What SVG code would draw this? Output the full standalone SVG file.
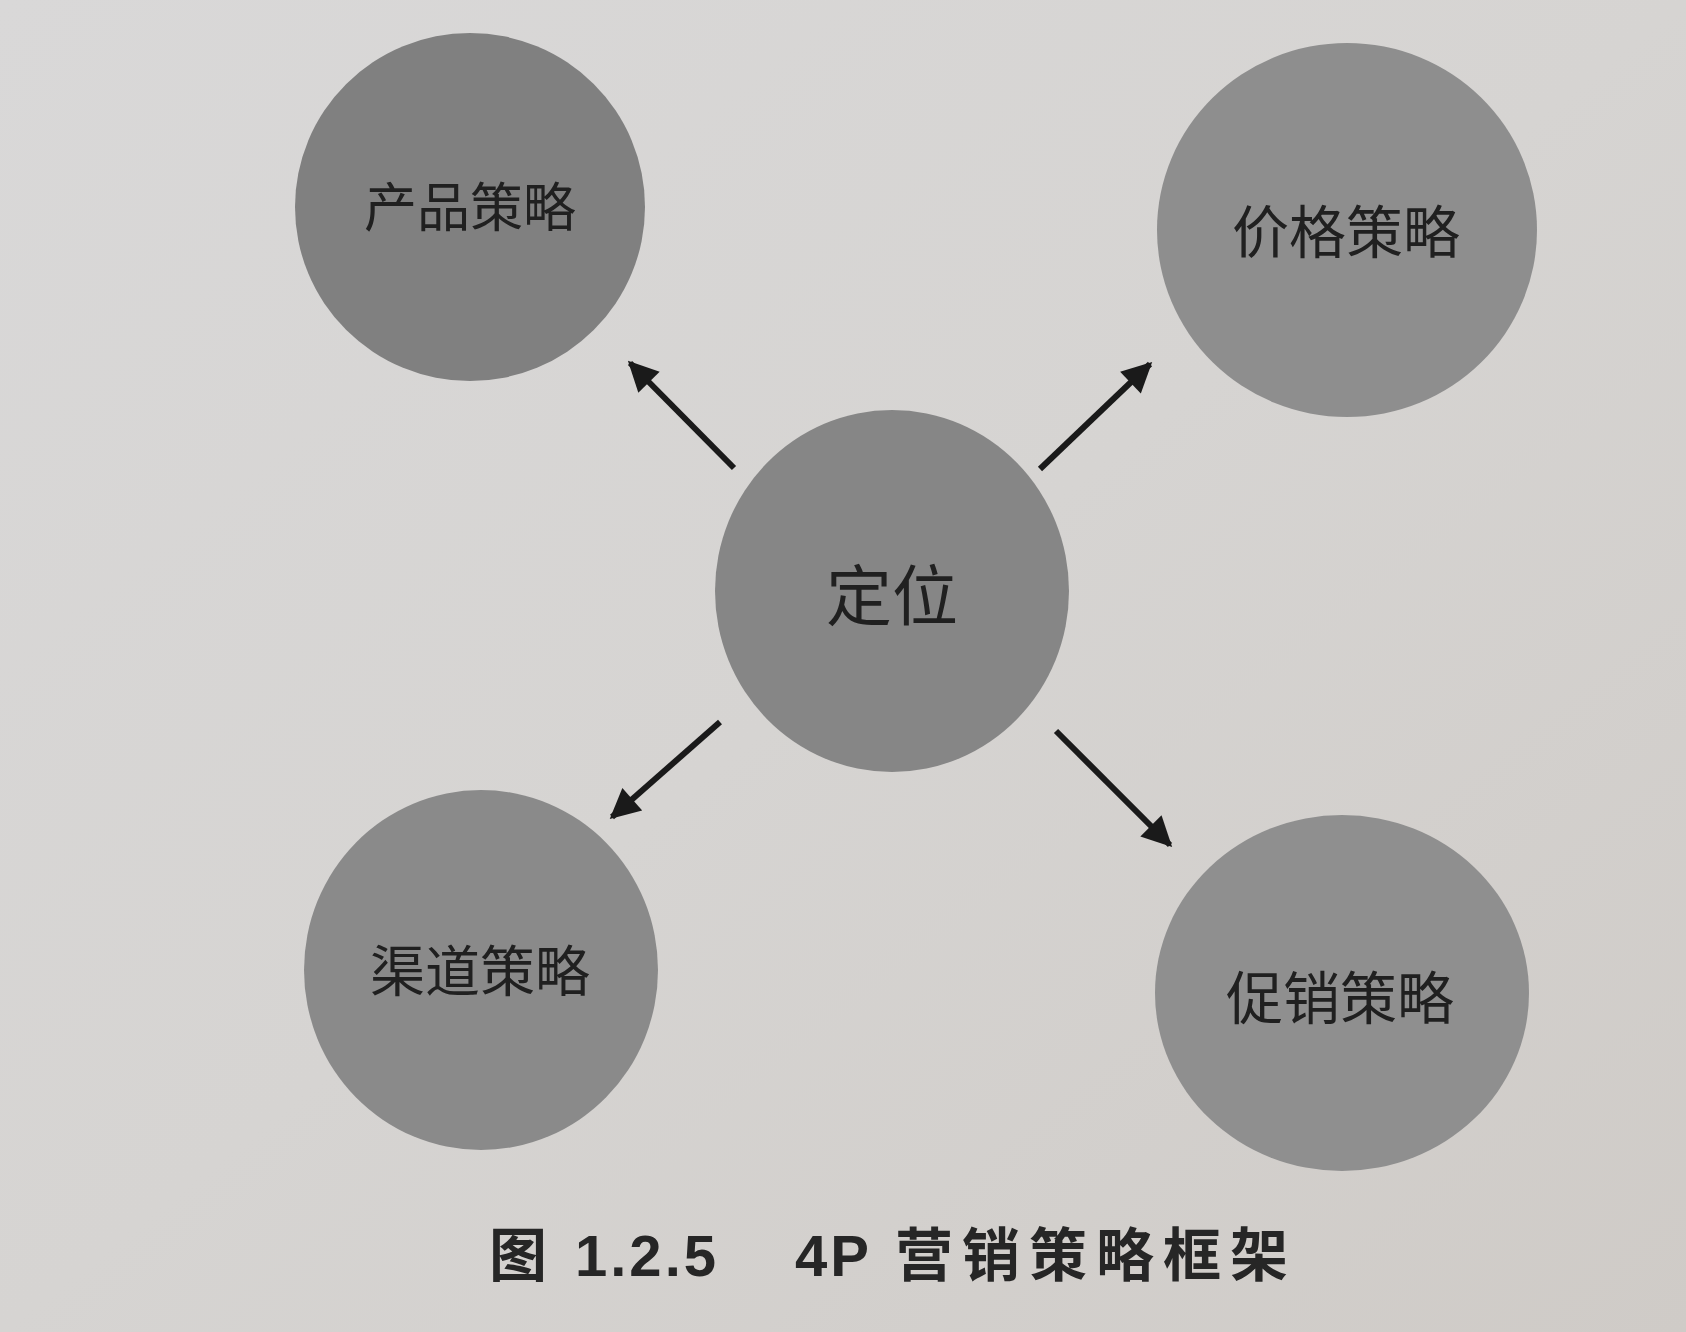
<svg xmlns="http://www.w3.org/2000/svg" width="1686" height="1332" viewBox="0 0 1686 1332">
<defs>
<linearGradient id="bg" x1="0" y1="0" x2="1" y2="1">
<stop offset="0" stop-color="#d9d8d8"/>
<stop offset="0.5" stop-color="#d6d4d2"/>
<stop offset="1" stop-color="#cfcbc7"/>
</linearGradient>
<marker id="ah" viewBox="0 0 10 10" refX="9" refY="5" markerWidth="5.5" markerHeight="5" markerUnits="strokeWidth" orient="auto">
<path d="M0,0 L10,5 L0,10 z" fill="#1a1a1a"/>
</marker>
<style>
.node{stroke:none}
.lbl{font-family:"Noto Sans CJK SC","Noto Sans",sans-serif;fill:#202020;text-anchor:middle;dominant-baseline:central}
.conn{stroke:#1a1a1a;stroke-width:6;fill:none;marker-end:url(#ah)}
.cap{font-family:"Liberation Sans","Noto Sans CJK SC",sans-serif;font-weight:bold;fill:#262626}
</style>
</defs>
<rect width="1686" height="1332" fill="url(#bg)"/>
<g id="connectors">
<line class="conn" x1="734" y1="468" x2="630" y2="363"/>
<line class="conn" x1="1040" y1="469" x2="1150" y2="364"/>
<line class="conn" x1="720" y1="722" x2="612" y2="817"/>
<line class="conn" x1="1056" y1="731" x2="1170" y2="845"/>
</g>
<g id="node-product">
<ellipse class="node" cx="470" cy="207" rx="175" ry="174" fill="#808080"/>
<text class="lbl" x="470" y="204" font-size="53">产品策略</text>
</g>
<g id="node-price">
<ellipse class="node" cx="1347" cy="230" rx="190" ry="187" fill="#8e8e8e"/>
<text class="lbl" x="1346" y="228" font-size="57">价格策略</text>
</g>
<g id="node-position">
<ellipse class="node" cx="892" cy="591" rx="177" ry="181" fill="#868686"/>
<text class="lbl" x="892" y="591" font-size="66">定位</text>
</g>
<g id="node-channel">
<ellipse class="node" cx="481" cy="970" rx="177" ry="180" fill="#8a8a8a"/>
<text class="lbl" x="480" y="967" font-size="55">渠道策略</text>
</g>
<g id="node-promotion">
<ellipse class="node" cx="1342" cy="993" rx="187" ry="178" fill="#8f8f8f"/>
<text class="lbl" x="1340" y="994" font-size="57">促销策略</text>
</g>
<text class="cap" x="489" y="1276" font-size="58"><tspan>图</tspan><tspan x="575" letter-spacing="3">1.2.5</tspan><tspan x="795" letter-spacing="3">4P</tspan><tspan x="895" letter-spacing="9">营销策略框架</tspan></text>
</svg>
